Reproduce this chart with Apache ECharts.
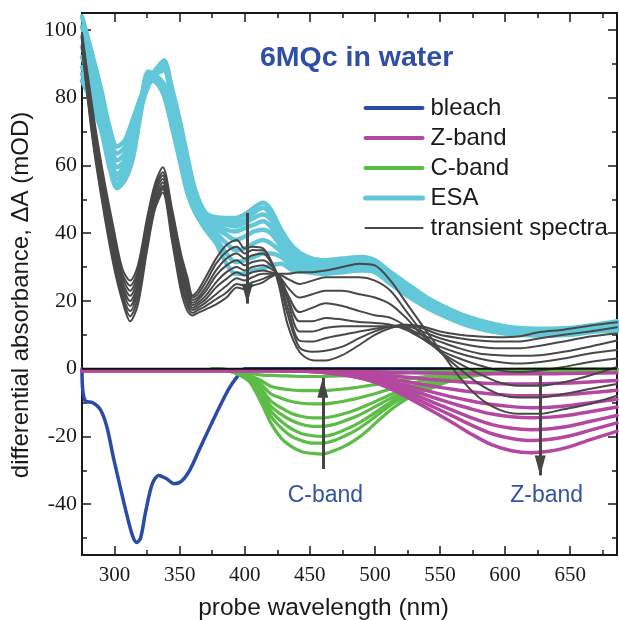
<!DOCTYPE html>
<html><head><meta charset="utf-8">
<script src="https://cdn.jsdelivr.net/npm/echarts@6/dist/echarts.min.js"></script>
<style>html,body{margin:0;padding:0;background:#fff}#c{width:619px;height:620px}</style>
</head><body><div id="c"></div>
<script>
// ---------- DATA ----------
const xMajorTicks = [300, 350, 400, 450, 500, 550, 600, 650];
const xMinorTicks = [300, 325, 350, 375, 400, 425, 450, 475, 500, 525, 550, 575, 600, 625, 650, 675];
const yMajorTicks = [-40, -20, 0, 20, 40, 60, 80, 100];
const yMinorTicks = [-50, -40, -30, -20, -10, 0, 10, 20, 30, 40, 50, 60, 70, 80, 90, 100];

const waveTransient = [275, 283, 291, 299, 306, 312, 318, 325, 331, 337, 344, 351, 356, 360, 364, 370, 378, 386, 394, 400, 406, 414, 420, 426, 433, 442, 452, 462, 475, 488, 500, 512, 524, 536, 550, 565, 580, 595, 610, 627, 645, 665, 686];
const transientSpectra = [
  [99, 77, 58, 42, 29.5, 26, 30.5, 44.5, 54.5, 59.5, 47.5, 34, 27, 21.6, 23, 27, 32.5, 36.5, 38, 35.5, 36, 35.5, 32, 25, 13, 5, 2.5, 2.4, 4, 7, 10, 12, 13, 12.5, 11, 10, 9.5, 9.3, 9.5, 10.8, 11.5, 12.7, 13.7],
  [99, 75, 56.5, 40.5, 28, 24.5, 29, 43.5, 53.5, 58, 46.5, 32.5, 25.5, 21, 22, 25.5, 31, 34.5, 36, 34, 35, 35, 32, 26.5, 16, 6.3, 5, 5.3, 6.5, 9, 11, 12.5, 13, 12, 10, 9, 8.3, 8, 8, 9, 10, 11, 12.2],
  [98, 74, 55, 39, 27, 23, 28, 42, 53, 57, 45, 31, 24, 20.3, 21, 24, 29, 32.5, 34, 32.5, 33.5, 34, 31.5, 27, 18, 8.3, 8, 9, 10, 11, 11.8, 12.5, 12.5, 11, 9, 7.5, 6.5, 6, 6, 6.8, 8, 9.5, 10.4],
  [97.5, 73, 54, 37.5, 25.5, 21.5, 26.5, 41, 52, 56, 44, 30, 23, 19.5, 20.3, 22.8, 27.5, 30.5, 32, 30.5, 31.5, 32, 30.5, 27.5, 20, 11, 11, 12, 12.5, 12.5, 12.5, 12.5, 12, 10, 8, 6, 4.5, 4, 3.8, 4, 5, 6.5, 8.3],
  [97, 72, 52.5, 36, 24.5, 20, 25, 40, 51, 55, 43, 29, 22, 18.8, 19.5, 21.5, 25.5, 28.5, 30, 29, 30, 30.5, 29.5, 27.5, 21, 14, 14, 15, 14.5, 13.8, 13.5, 13, 11.5, 9, 6.5, 4.5, 3, 2, 1.5, 2, 3, 4.5, 5.5],
  [96.5, 71, 51.5, 35, 23.5, 18.5, 24, 39, 50, 54, 42, 27.5, 21, 18, 18.8, 20.5, 24, 26.5, 28.5, 27.5, 28.5, 29, 28.5, 27.5, 22, 16.7, 18, 19.3, 18.5, 17, 15.8, 15, 12.5, 9, 5.5, 3, 1, -0.5, -1, -0.5, 0.5, 2, 3],
  [96, 70, 50, 33.5, 22, 17, 23, 37.5, 49, 53.5, 41, 26, 19.5, 17.3, 18, 19.5, 22, 24.5, 26.7, 26, 27, 28, 28, 27.5, 24, 21, 22, 23, 23, 22, 21, 19, 15, 10, 5, 1.5, -1.5, -4, -5, -5, -4, -2, 0.5],
  [95.5, 69, 49, 32, 21, 15.5, 21, 36, 48, 53, 40, 25, 18.5, 16.5, 17.3, 18.5, 20.5, 22.5, 25, 24.5, 25.5, 26.5, 27.5, 27.8, 26.5, 25, 26, 27, 27, 27, 26, 23, 17, 11, 5, 0, -4.5, -7.5, -8.5, -8.5, -7.5, -6, -4.5],
  [95, 68, 48, 31, 20, 14, 19, 35, 47, 52, 38, 23, 17, 15.7, 16.5, 17.5, 19, 21, 24, 23.5, 24.5, 25.5, 27, 28, 28, 28.5, 28.5, 29, 30, 31, 30.5, 26, 19.5, 13, 5.5, -2.5, -8.5, -12, -13.3, -13.3, -12, -10.4, -8]
];

const waveESA = [275, 282, 290, 296, 302, 308, 314, 320, 326, 332, 338, 344, 350, 356, 362, 370, 378, 386, 393, 400, 407, 414, 420, 428, 437, 448, 460, 475, 490, 500, 512, 525, 540, 555, 570, 590, 610, 630, 650, 670, 686];
const esaSpectra = [
  [104, 94, 82, 71.5, 65.6, 67.5, 73.5, 80, 85, 88.5, 91, 83, 73.5, 62.6, 52.7, 46, 44.7, 44.5, 44.5, 45.5, 47.5, 49, 47, 41, 36, 33, 32, 32.5, 33, 32, 28.5, 25, 21, 18, 15.5, 13.3, 12, 11.8, 12, 13, 14],
  [101, 91, 80, 69.5, 63.5, 65.5, 71.5, 79, 84.5, 88, 90, 82, 72, 61, 51.5, 45.5, 44, 43.5, 43.3, 44, 46, 47.5, 45.5, 40, 35, 32.5, 31.5, 32, 32.5, 31.5, 28, 24.5, 20.5, 17.6, 15.1, 13, 11.7, 11.5, 11.7, 12.7, 13.6],
  [98, 89, 79, 67.5, 61.5, 63.5, 70, 78, 84, 87.5, 89, 80, 70, 59, 50.5, 45, 43.5, 42.5, 42, 43, 44.5, 45.5, 44, 39, 34, 31.8, 31, 31.5, 32, 31, 27.5, 24, 20, 17.2, 14.7, 12.7, 11.4, 11.2, 11.4, 12.4, 13.2],
  [95, 87, 77, 65.5, 59.5, 61.5, 68, 76.5, 83.5, 87, 88, 78.5, 68, 57, 49.5, 44.5, 42.5, 41, 40.5, 41.5, 42.5, 43.5, 42, 37.5, 33, 31, 30.5, 31, 31.5, 30.5, 27, 23.5, 19.6, 16.8, 14.3, 12.4, 11.1, 10.9, 11.1, 12.1, 12.8],
  [92, 85, 76, 64, 57.5, 60, 67, 78.5, 87.7, 86.5, 84, 76, 66, 56, 48.5, 44, 41.5, 39.5, 38, 39, 40.5, 41, 40, 36, 32, 30.3, 30, 30.5, 31, 30, 26.5, 23, 19.2, 16.4, 14, 12.1, 10.8, 10.6, 10.8, 11.8, 12.4],
  [89, 83, 74, 62.5, 56, 58.5, 66, 77.5, 87, 85.5, 82.5, 74.5, 64.5, 55, 47.5, 43, 40, 37, 35, 35.5, 37, 38, 37, 34.5, 31, 29.6, 29.5, 30, 30.5, 29.5, 26, 22.5, 18.8, 16, 13.6, 11.8, 10.5, 10.3, 10.5, 11.5, 12],
  [87, 81, 72, 61, 54.5, 57, 64.5, 76.5, 86.5, 85, 81.5, 73, 63, 53.5, 46.5, 42, 38.5, 34, 31.5, 32, 33, 34, 34, 33, 30, 29, 29, 29.5, 30, 29, 25.5, 22, 18.4, 15.6, 13.2, 11.4, 10.2, 10, 10.2, 11.2, 11.6],
  [85, 79, 70, 59.6, 53.3, 55.7, 62, 75, 85.5, 84.5, 80.5, 71.5, 61.6, 51.8, 46, 41, 37, 31, 28, 28, 29, 29.5, 30.5, 31, 29, 28.5, 28, 28.5, 29, 28.5, 25, 21.5, 18, 15.2, 12.9, 11, 10, 9.8, 10, 11, 11.2]
];

const waveBleach = [275, 275.5, 277.5, 283, 289, 294, 299, 305, 310, 314, 317, 320, 324, 329, 334, 340, 346, 352, 358, 365, 373, 381, 388, 394, 400, 430, 560];
const bleachSpectrum = [0, -6, -9.5, -10, -12, -17, -26, -36, -44, -49.5, -51.3, -50, -42, -34, -31.5, -32.5, -34, -33, -29.8, -24, -17.4, -11, -5.8, -2.5, 0, 0, 0];

const waveC = [375, 385, 392, 398, 404, 412, 420, 428, 436, 444, 452, 460, 468, 476, 485, 495, 505, 515, 525, 535, 545, 555, 570, 600, 640, 686];
const cBandSpectra = [
  [0, -0.2, -0.6, -1.2, -1.5, -1.8, -2, -2.1, -2.2, -2.3, -2.3, -2.3, -2.2, -2.1, -2, -1.8, -1.6, -1.4, -1.2, -1, -0.8, -0.6, -0.4, -0.2, -0.1, -0.1],
  [0, -0.3, -0.8, -1.4, -2.1, -3.4, -5.2, -5.9, -6.3, -6.5, -6.5, -6.5, -6.3, -6, -5.6, -5, -4.4, -3.7, -3.1, -2.5, -2, -1.5, -0.9, -0.4, -0.2, -0.1],
  [0, -0.3, -0.9, -1.6, -2.5, -4.4, -7.4, -8.7, -9.7, -10.2, -10.4, -10.4, -10.1, -9.6, -8.9, -7.9, -6.8, -5.6, -4.6, -3.7, -2.9, -2.2, -1.3, -0.5, -0.3, -0.2],
  [0, -0.4, -1, -1.8, -2.8, -5.5, -9.5, -11.6, -13.2, -14.1, -14.5, -14.5, -14.1, -13.3, -12.2, -10.6, -8.9, -7.2, -5.9, -4.7, -3.7, -2.7, -1.6, -0.6, -0.3, -0.2],
  [0, -0.4, -1, -2, -3.1, -6.5, -11, -13.5, -15.3, -16.5, -17, -17, -16.5, -15.5, -14.2, -12.3, -10.2, -8.2, -6.6, -5.3, -4.2, -3, -1.8, -0.7, -0.4, -0.2],
  [0, -0.5, -1.1, -2.1, -3.4, -7.5, -12.4, -15.5, -17.8, -19.2, -19.8, -20, -19.4, -18.2, -16.6, -14.3, -11.7, -9.2, -7.4, -5.9, -4.6, -3.3, -2, -0.8, -0.4, -0.3],
  [0, -0.5, -1.1, -2.2, -3.7, -8.5, -14, -17.5, -20, -21.3, -22, -22, -21.3, -20, -18.3, -15.7, -12.8, -10, -8, -6.3, -5, -3.6, -2.2, -0.9, -0.5, -0.3],
  [0, -0.5, -1.1, -2.3, -4, -9.5, -16, -20.5, -23, -24.5, -25, -25.2, -24.3, -23, -21, -18, -14.5, -11.3, -8.8, -7, -5.5, -4, -2.5, -1, -0.5, -0.3]
];

const waveZ = [275, 420, 440, 455, 470, 485, 500, 515, 530, 545, 560, 575, 590, 605, 620, 635, 650, 665, 686];
const zBandSpectra = [
  [-0.5, -0.5, -0.5, -0.5, -0.6, -0.7, -0.9, -1.1, -1.2, -1.3, -1.4, -1.5, -1.5, -1.5, -1.5, -1.5, -1.4, -1.3, -1.2],
  [-0.5, -0.5, -0.5, -0.6, -0.8, -1.2, -1.7, -2.2, -2.7, -3.2, -3.7, -4.1, -4.4, -4.5, -4.5, -4.4, -4.2, -3.9, -3.5],
  [-0.5, -0.5, -0.5, -0.7, -1, -1.6, -2.3, -3.2, -4.2, -5.2, -6.1, -6.9, -7.5, -7.9, -8, -7.9, -7.6, -7.1, -6.4],
  [-0.5, -0.5, -0.6, -0.8, -1.2, -1.9, -2.8, -4.1, -5.5, -7, -8.4, -9.6, -10.6, -11.2, -11.5, -11.4, -10.9, -10.1, -9],
  [-0.5, -0.5, -0.6, -0.8, -1.3, -2.1, -3.2, -4.8, -6.6, -8.5, -10.3, -12, -13.4, -14.2, -14.5, -14.3, -13.7, -12.7, -11.3],
  [-0.5, -0.5, -0.6, -0.9, -1.4, -2.3, -3.5, -5.5, -7.6, -10, -12.3, -14.6, -16.5, -17.6, -18, -17.7, -16.9, -15.6, -13.8],
  [-0.5, -0.5, -0.6, -0.9, -1.5, -2.4, -3.8, -6, -8.5, -11.3, -14, -16.8, -19.2, -20.6, -21.2, -20.8, -19.8, -18.2, -16],
  [-0.5, -0.5, -0.6, -0.9, -1.5, -2.5, -4, -6.5, -9.5, -12.7, -16, -19.5, -22.5, -24.2, -24.8, -24.3, -23, -21, -18.5]
];

const zeroLine = [[275, 0], [686, 0]];
const arrowWavelengths = [402, 460, 627];
const arrowStart = [46, -29.6, -2];
const arrowTip = [19.2, -2.7, -31.5];
const annotationText = ['C-band', 'Z-band'];
const annotationWavelengths = [462, 632];
const annotationLevel = [-37.5, -37.5];

// ---------- CHART ----------
const chart = echarts.init(document.getElementById('c'), null, {renderer: 'canvas'});
const SANS = '"Liberation Sans", Arial, sans-serif';
const SERIF = '"Liberation Serif", "Times New Roman", serif';
const INK = '#1a1a1a';
const ARROW = '#454545';
const COLORS = {ESA: '#62c8d9', bleach: '#2b4ba8', C: '#5bbd45', Z: '#b4479f', T: '#484848'};
const pairs = (xs, ys) => ys.map((y, i) => [xs[i], y]);

function lineSeries(name, xs, ys, color, width) {
  return {
    type: 'line', name, data: pairs(xs, ys),
    symbol: 'none', showSymbol: false, smooth: 0.3,
    lineStyle: {color, width, cap: 'round', join: 'round'},
    itemStyle: {color}, silent: true, emphasis: {disabled: true}
  };
}

const series = [];
esaSpectra.forEach(s => series.push(lineSeries('ESA', waveESA, s, COLORS.ESA, 4.5)));
series.push(lineSeries('bleach', waveBleach, bleachSpectrum, COLORS.bleach, 3.5));
cBandSpectra.forEach(s => series.push(lineSeries('C-band', waveC, s, COLORS.C, 3.2)));
zBandSpectra.forEach(s => series.push(lineSeries('Z-band', waveZ, s, COLORS.Z, 3.5)));
transientSpectra.forEach(s => series.push(lineSeries('transient spectra', waveTransient, s, COLORS.T, 2)));
series.push({
  type: 'line', name: 'zero', data: zeroLine, symbol: 'none', silent: true,
  lineStyle: {color: '#111', width: 2}, itemStyle: {color: '#111'}
});
series.push({
  type: 'line', name: 'arrows', data: [], silent: true, itemStyle: {color: ARROW},
  markLine: {
    silent: true, animation: false,
    symbol: ['none', 'none'],
    label: {show: false},
    itemStyle: {color: ARROW},
    lineStyle: {color: ARROW, width: 3, type: 'solid'},
    emphasis: {disabled: true},
    data: arrowWavelengths.map((w, i) => [
      {coord: [w, arrowStart[i]], symbol: 'none'},
      {coord: [w, arrowTip[i]], symbol: 'path://M5,0 L10,20 L0,20 Z', symbolSize: [11, 20], symbolOffset: [0, 10], itemStyle: {color: ARROW}}
    ])
  },
  markPoint: {
    silent: true, symbol: 'circle', symbolSize: 1,
    itemStyle: {color: 'rgba(0,0,0,0)'},
    label: {show: true, position: 'inside', formatter: p => p.name,
      color: '#3453a8', fontSize: 23, fontFamily: SANS},
    data: annotationText.map((t, i) => ({name: t, coord: [annotationWavelengths[i], annotationLevel[i]]}))
  }
});

const tickStyle = {color: INK, width: 1.5};
function xAx(position, ticks, len, withLabels) {
  const a = {
    type: 'value', min: 275, max: 686, position, gridIndex: 0,
    axisLine: {show: false, onZero: false},
    splitLine: {show: false},
    axisTick: {show: true, inside: true, length: len, customValues: ticks, lineStyle: tickStyle},
    axisLabel: {show: false}
  };
  if (withLabels) {
    a.axisLabel = {show: true, customValues: xMajorTicks, fontFamily: SERIF, fontSize: 21, color: INK, margin: 10};
    a.name = 'probe wavelength (nm)';
    a.nameLocation = 'middle';
    a.nameGap = 41;
    a.nameTextStyle = {fontFamily: SANS, fontSize: 24.5, color: INK, padding: [0, 52, 0, 0]};
  }
  return a;
}
function yAx(position, ticks, len, withLabels) {
  const a = {
    type: 'value', min: -55, max: 105, position, gridIndex: 0,
    axisLine: {show: false, onZero: false},
    splitLine: {show: false},
    axisTick: {show: true, inside: true, length: len, customValues: ticks, lineStyle: tickStyle},
    axisLabel: {show: false}
  };
  if (withLabels) {
    a.axisLabel = {show: true, customValues: yMajorTicks, fontFamily: SERIF, fontSize: 22, color: INK, margin: 5};
    a.name = 'differential absorbance, \u0394A (mOD)';
    a.nameLocation = 'middle';
    a.nameGap = 44;
    a.nameTextStyle = {fontFamily: SANS, fontSize: 24, color: INK, padding: [0, 22, 0, 0]};
  }
  return a;
}

chart.setOption({
  animation: false,
  backgroundColor: '#fff',
  title: {
    text: '6MQc in water', left: 255, top: 39,
    textStyle: {fontFamily: SANS, fontSize: 28.5, fontWeight: 'bold', color: '#2f4fa6'}
  },
  legend: {
    data: [
      {name: 'bleach', lineStyle: {width: 4, color: COLORS.bleach}},
      {name: 'Z-band', lineStyle: {width: 4, color: COLORS.Z}},
      {name: 'C-band', lineStyle: {width: 4, color: COLORS.C}},
      {name: 'ESA', lineStyle: {width: 5, color: COLORS.ESA}},
      {name: 'transient spectra', lineStyle: {width: 2.2, color: COLORS.T}}
    ],
    orient: 'vertical', left: 363, top: 96, padding: 0,
    itemWidth: 57, itemHeight: 14, itemGap: 6, selectedMode: false,
    itemStyle: {opacity: 0},
    textStyle: {fontFamily: SANS, fontSize: 24, color: INK, lineHeight: 24, padding: [0, 0, 0, 3]}
  },
  grid: {left: 82, top: 13, width: 535, height: 542, outerBoundsMode: 'none', containLabel: false,
    show: true, borderColor: INK, borderWidth: 2, backgroundColor: 'transparent'},
  xAxis: [xAx('bottom', xMajorTicks, 9, true), xAx('bottom', xMinorTicks, 5, false), xAx('top', xMajorTicks, 9, false), xAx('top', xMinorTicks, 5, false)],
  yAxis: [yAx('left', yMajorTicks, 9, true), yAx('left', yMinorTicks, 5, false), yAx('right', yMajorTicks, 9, false), yAx('right', yMinorTicks, 5, false)],
  series
});
</script></body></html>
